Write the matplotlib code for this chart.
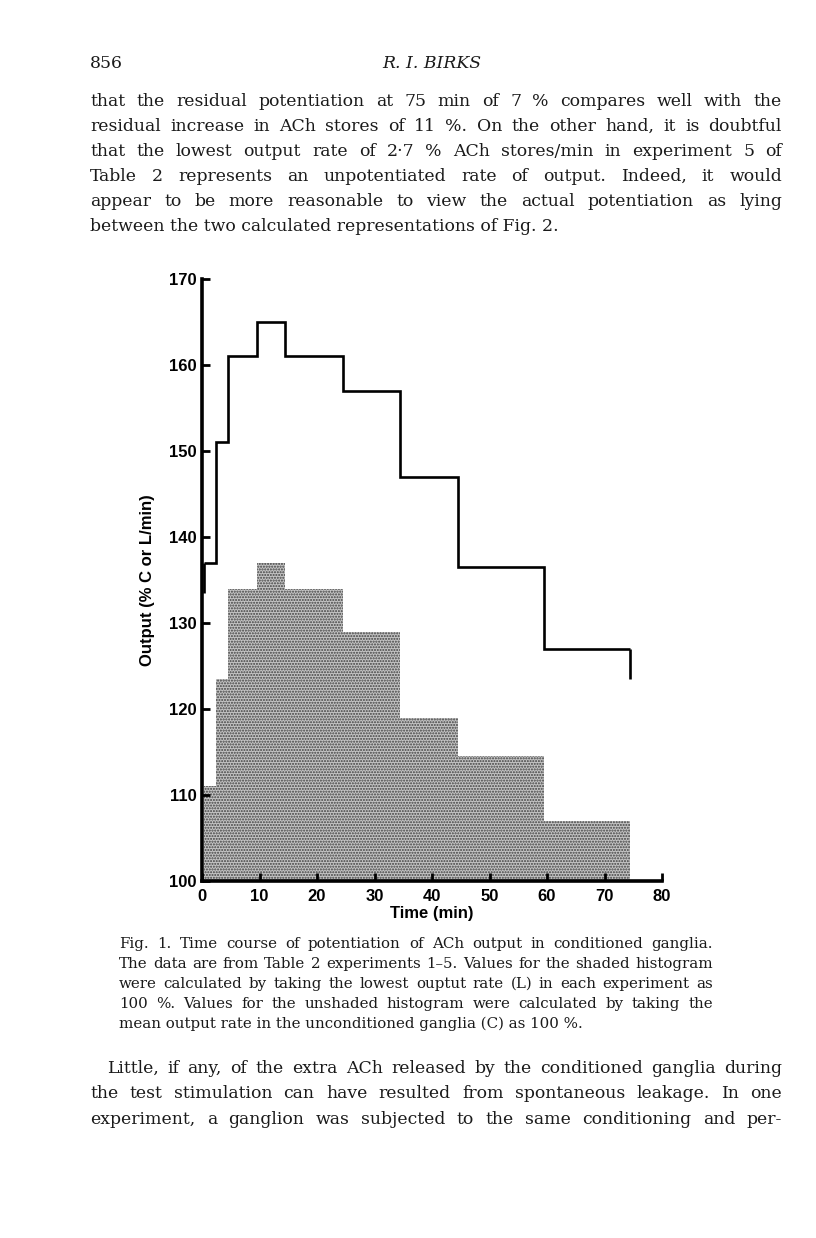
import numpy as np
import matplotlib
matplotlib.use("Agg")
import matplotlib.pyplot as plt

# -- histogram bin edges (min) and values (% output)
edges = [0.3, 2.5, 4.5, 9.5, 14.5, 24.5, 34.5, 44.5, 59.5, 74.5]
shaded = [111, 123.5, 134, 137, 134, 129, 119, 114.5, 107]
unshaded = [137, 151, 161, 165, 161, 157, 147, 136.5, 127]
# -- stub ends of the unshaded outline
stub_x = [0.3, 74.5]
stub_lo = [133.5, 123.5]

xticks = [0, 10, 20, 30, 40, 50, 60, 70, 80]
yticks = [100, 110, 120, 130, 140, 150, 160, 170]

header_num = "856"
header_name = "R. I. BIRKS"
para1 = ["that the residual potentiation at 75 min of 7 % compares well with the",
         "residual increase in ACh stores of 11 %. On the other hand, it is doubtful",
         "that the lowest output rate of 2·7 % ACh stores/min in experiment 5 of",
         "Table 2 represents an unpotentiated rate of output. Indeed, it would",
         "appear to be more reasonable to view the actual potentiation as lying",
         "between the two calculated representations of Fig. 2."]
caption = ["Fig. 1. Time course of potentiation of ACh output in conditioned ganglia.",
           "The data are from Table 2 experiments 1–5. Values for the shaded histogram",
           "were calculated by taking the lowest ouptut rate (L) in each experiment as",
           "100 %. Values for the unshaded histogram were calculated by taking the",
           "mean output rate in the unconditioned ganglia (C) as 100 %."]
para2 = ["Little, if any, of the extra ACh released by the conditioned ganglia during",
         "the test stimulation can have resulted from spontaneous leakage. In one",
         "experiment, a ganglion was subjected to the same conditioning and per-"]

W, H = 816, 1238
plt.rcParams["hatch.linewidth"] = 1.0
plt.rcParams["hatch.color"] = "#404040"

fig = plt.figure(figsize=(W / 100, H / 100), dpi=100)
fig.patch.set_facecolor("white")
rend = fig.canvas.get_renderer()


def put_line(x0, x1, y, s, justify=True, **kw):
    # -- place a line of text, spreading the words to fill x0..x1 (pixels)
    if not justify:
        fig.text(x0 / W, 1 - y / H, s, va="baseline", **kw)
        return
    words = s.split(" ")
    wids = []
    for w in words:
        t = fig.text(0, 0, w, **kw)
        wids.append(t.get_window_extent(rend).width)
        t.remove()
    gap = (x1 - x0 - sum(wids)) / (len(words) - 1)
    x = x0
    for w, wd in zip(words, wids):
        fig.text(x / W, 1 - y / H, w, va="baseline", **kw)
        x += wd + gap


serif = dict(family="DejaVu Serif", fontsize=12.4, color="#1a1a1a")
capf = dict(family="DejaVu Serif", fontsize=10.8, color="#1a1a1a")

fig.text(90 / W, 1 - 68 / H, header_num, va="baseline", **serif)
fig.text(432 / W, 1 - 68 / H, header_name, va="baseline", ha="center",
         style="italic", **serif)

for i, s in enumerate(para1):
    put_line(90, 782, 106 + 25 * i, s, justify=(i < len(para1) - 1), **serif)

for i, s in enumerate(caption):
    put_line(119, 713, 948 + 20 * i, s, justify=(i < len(caption) - 1), **capf)

for i, s in enumerate(para2):
    put_line(107 if i == 0 else 90, 782, 1073 + 25.5 * i, s, **serif)

# -- the chart
ax = fig.add_axes([202 / W, 1 - 881 / H, (662 - 202) / W, (881 - 279) / H])
ax.stairs(shaded, edges, baseline=100, fill=True, facecolor="#c4c4c4",
          edgecolor="#404040", linewidth=0, hatch="......")
ax.stairs(unshaded, edges, baseline=None, color="black", linewidth=1.9)
ax.vlines(stub_x, stub_lo, [unshaded[0], unshaded[-1]], color="black",
          linewidth=1.9)

ax.set_xlim(0, 80)
ax.set_ylim(100, 170)
for sp in ["top", "right"]:
    ax.spines[sp].set_visible(False)
for sp in ["left", "bottom"]:
    ax.spines[sp].set_linewidth(2.6)
ax.set_xticks(xticks)
ax.set_yticks(yticks)
ax.tick_params(direction="in", length=6, width=2)
ax.tick_params(axis="x", pad=6)
ax.tick_params(axis="y", pad=4)
bold = dict(family="Liberation Sans", fontweight="bold", fontsize=12)
ax.set_xticklabels([str(v) for v in xticks], **bold)
ax.set_yticklabels([str(v) for v in yticks], **bold)
ax.set_xlabel("Time (min)", labelpad=1, **bold)
ax.set_ylabel("Output (% C or L/min)", labelpad=10, **bold)
ax.patch.set_alpha(0)

fig.savefig("out.png", dpi=100)
